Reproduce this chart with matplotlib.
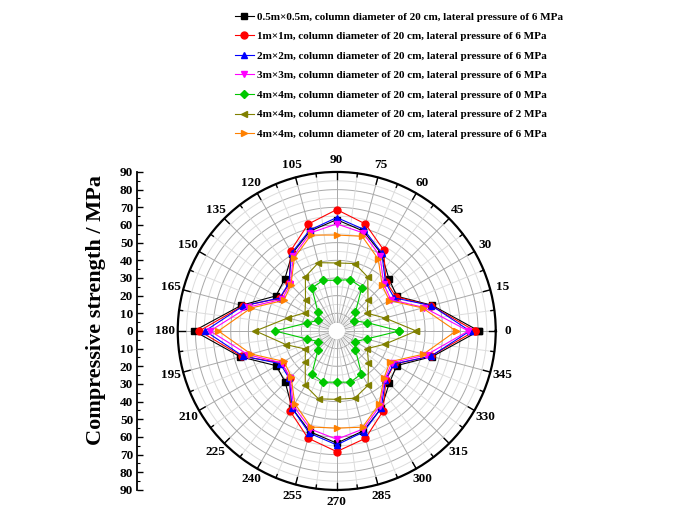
import numpy as np
import matplotlib
matplotlib.use('Agg')
import matplotlib.pyplot as plt

plt.rcParams['font.family'] = 'Liberation Serif'
plt.rcParams['font.weight'] = 'bold'

# angles (degrees) of the measuring points
angles = list(range(0, 360, 15))

# compressive strength (MPa) for each case
s_05m_6 = [80.5, 56, 39.3, 41.8, 50.5, 58.5, 63, 58.5, 50.5, 41.6, 39.7, 56,
           80.8, 56.5, 39.4, 41.2, 50.5, 59, 63.5, 58.5, 50.5, 42, 39.2, 56]
s_1m_6 = [78.3, 55.3, 38.7, 39.5, 53, 62.7, 68.7, 62.6, 52.3, 38, 37, 55,
          77.8, 55.5, 36, 37.5, 52.6, 62.8, 68.3, 62.9, 52.4, 39.4, 37.6, 55]
s_2m_6 = [75.4, 55.5, 37.5, 39, 51, 59.5, 64.2, 59.1, 51, 38.3, 37.3, 54.8,
          74.5, 55, 37, 38, 50.5, 59.9, 64.5, 59.1, 50.4, 39, 37.3, 55.2]
s_3m_6 = [74.5, 51.2, 35.4, 37.6, 49, 57.5, 60.6, 57.5, 49, 37.3, 35.8, 52,
          71.7, 52, 36, 37.3, 49, 57.5, 61.3, 57.5, 49, 38.5, 36, 52.5]
s_4m_0 = [35.5, 18, 11.5, 15, 28.4, 30, 28.7, 29.7, 28.1, 15, 12, 17.5,
          35, 17.5, 12, 15, 28.1, 30, 29, 30, 28, 15, 12, 17.5]
s_4m_2 = [45, 28.3, 20, 25, 35.2, 39.5, 38.5, 40, 35.5, 25, 20.7, 28.6,
          46, 29.8, 20.5, 25.2, 35.6, 39.8, 38.7, 39.4, 35.5, 25.4, 20, 28.5]
s_4m_6 = [67.5, 50.3, 34.4, 36.4, 47, 55.5, 54.3, 56.2, 47.9, 36.7, 34.6, 50.2,
          67, 50.3, 34.5, 36.5, 47.5, 56.3, 55, 56.4, 47.9, 37.8, 34.8, 50.8]

labels = [
    '0.5m\u00d70.5m, column diameter of 20 cm, lateral pressure of 6 MPa',
    '1m\u00d71m, column diameter of 20 cm, lateral pressure of 6 MPa',
    '2m\u00d72m, column diameter of 20 cm, lateral pressure of 6 MPa',
    '3m\u00d73m, column diameter of 20 cm, lateral pressure of 6 MPa',
    '4m\u00d74m, column diameter of 20 cm, lateral pressure of 0 MPa',
    '4m\u00d74m, column diameter of 20 cm, lateral pressure of 2 MPa',
    '4m\u00d74m, column diameter of 20 cm, lateral pressure of 6 MPa',
]
series = [s_05m_6, s_1m_6, s_2m_6, s_3m_6, s_4m_0, s_4m_2, s_4m_6]
colors = ['black', 'red', 'blue', 'magenta', '#00c800', '#808000', '#ff8000']
markers = ['s', 'o', '^', 'v', 'D', '<', '>']
msizes = [4.5, 5, 5, 5, 4, 5, 5]

fig = plt.figure(figsize=(6.74, 5.17), dpi=100)

ax = fig.add_axes([0.2637, 0.0523, 0.4718, 0.6151], projection='polar')
ax.set_ylim(0, 90)
ax.set_xticks([])
ax.set_yticks([])
ax.grid(False)
ax.spines['polar'].set_linewidth(1.6)

# grid: circles every 5 MPa, spokes every 7.5 deg
t = np.linspace(0, 2 * np.pi, 361)
for r in range(5, 90, 5):
    c = '#a8a8a8' if r % 10 == 0 else '#dcdcdc'
    ax.plot(t, np.full_like(t, r), color=c, lw=0.7, zorder=1)
for a in np.arange(0, 360, 7.5):
    c = '#a8a8a8' if a % 15 == 0 else '#dcdcdc'
    ax.plot([np.radians(a)] * 2, [5, 90], color=c, lw=0.7, zorder=1)
    # ticks on the outer circle
    ln = 4 if a % 15 == 0 else 2
    ax.plot([np.radians(a)] * 2, [90 - ln, 90], color='black', lw=1.0,
            zorder=3, clip_on=False)

for a in angles:
    ax.text(np.radians(a), 97, str(a), ha='center', va='center', fontsize=9.5,
            fontweight='bold')

th = np.radians(angles + [angles[0]])
for vals, col, mk, ms, lab in zip(series, colors, markers, msizes, labels):
    ax.plot(th, vals + [vals[0]], color=col, lw=0.8, marker=mk, ms=ms,
            mec=col, mfc=col, label=lab, zorder=4, clip_on=False)

# left strength scale
ax2 = fig.add_axes([0.2037, 0.0523, 0.02, 0.6151])
ax2.patch.set_alpha(0)
ax2.set_ylim(-90, 90)
ax2.set_xticks([])
for s in ['top', 'right', 'bottom']:
    ax2.spines[s].set_visible(False)
ax2.spines['left'].set_linewidth(1.3)
ticks = list(range(-90, 91, 10))
ax2.set_yticks(ticks)
ax2.set_yticklabels([str(abs(v)) for v in ticks], fontsize=9.5, fontweight='bold')
ax2.set_yticks(list(range(-85, 90, 10)), minor=True)
ax2.tick_params(axis='y', which='major', direction='in', length=4, width=1, pad=3)
ax2.tick_params(axis='y', which='minor', direction='in', length=2, width=0.8)
ax2.set_ylabel('Compressive strength / MPa', fontsize=16, fontweight='bold')
ax2.yaxis.set_label_coords(-2.35, 0.566)

handles, labs = ax.get_legend_handles_labels()
fig.legend(handles, labs, loc='upper left', bbox_to_anchor=(0.337, 0.992),
           frameon=False, fontsize=8, handlelength=1.7, handletextpad=0.25,
           labelspacing=0.88, borderaxespad=0.3)

fig.savefig('out.png', dpi=100)
